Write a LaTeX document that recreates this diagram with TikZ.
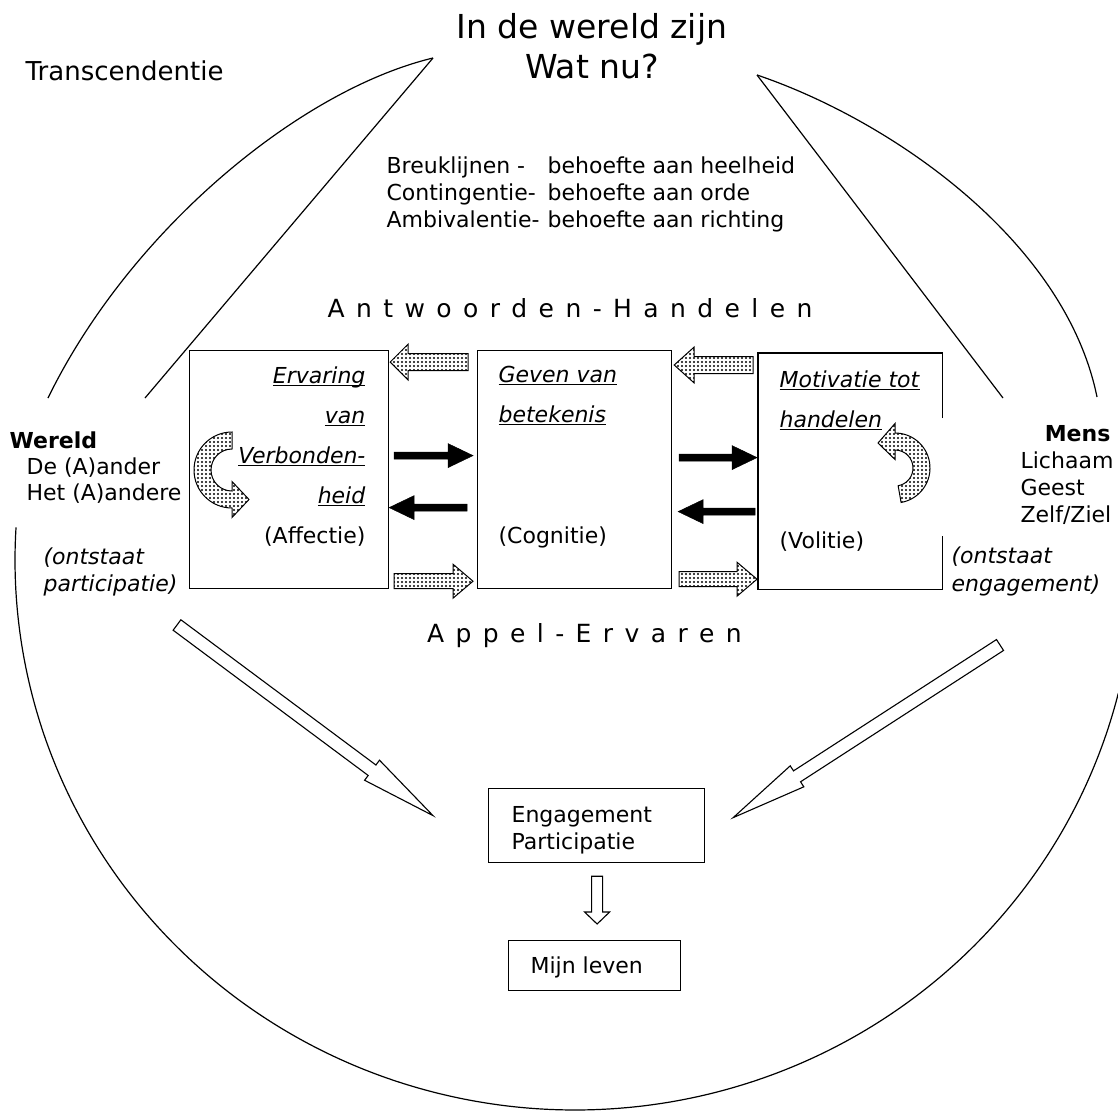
\documentclass[tikz,border=0pt]{standalone}
\usepackage{fontspec}
\setmainfont{DejaVu Sans}
\usetikzlibrary{calc,patterns}
\pgfdeclarepatternformonly{bigdots}{\pgfqpoint{-1pt}{-1pt}}{\pgfqpoint{5pt}{5pt}}{\pgfqpoint{4pt}{4pt}}{\pgfpathcircle{\pgfqpoint{2pt}{2pt}}{1.15pt}\pgfusepath{fill}}
\newcommand\ul[1]{\setbox0\hbox{#1}\rlap{\rule[-3.2pt]{\wd0}{1.2pt}}\box0}
\newcommand\ls{\hspace{11.4pt}}
\newcommand\blockarrow[6]{%
  \coordinate (hb) at ($(#3)!#6!(#2)$);
  \draw[#1] ($(#2)!#4!90:(#3)$) -- ($(hb)!#4!90:(#3)$) -- ($(hb)!#5!90:(#3)$) -- (#3) -- ($(hb)!#5!-90:(#3)$) -- ($(hb)!#4!-90:(#3)$) -- ($(#2)!#4!-90:(#3)$) -- cycle;}
\begin{document}
\begin{tikzpicture}[x=1pt,y=-1pt,line width=1.2pt,
  t/.style={inner sep=0pt, font=\fontsize{22}{27}\selectfont},
  box/.style={draw, line width=1.2pt, inner sep=0pt},
  dotarrow/.style={draw, line width=1pt, preaction={fill=white}, pattern=bigdots},
  solidarrow/.style={fill=black, draw=black, line width=0.5pt},
  hollow/.style={draw, fill=white, line width=1.1pt}]
\useasboundingbox[fill=white] (0,0) rectangle (1118,1116);

% outer curves
\coordinate (apL) at (433,58);
\coordinate (apR) at (757,75);
\draw (apL) .. controls (300,90) and (130,230) .. (48,398);
\draw (apL) -- (145,398);
\draw (apR) .. controls (890,120) and (1065,240) .. (1097,397);
\draw (apR) -- (1003,398);
\draw plot[domain=183.4:14, samples=160, smooth] ({575+560*cos(\x)},{560+550*sin(\x)});

% titles
\node[inner sep=0pt, font=\fontsize{33}{40}\selectfont, anchor=base] (ti1) at (592,38) {In de wereld zijn};
\node[inner sep=0pt, font=\fontsize{33}{40}\selectfont, anchor=base] (ti2) at (592,78) {Wat nu?};
\node[inner sep=0pt, font=\fontsize{26}{30}\selectfont, anchor=base west] (trans) at (25,80) {Transcendentie};

\node[t, anchor=base west] (b1) at (386,173) {\makebox[161pt][l]{Breuklijnen -}behoefte aan heelheid};
\node[t, anchor=base west] (b2) at (386,200) {\makebox[161pt][l]{Contingentie-}behoefte aan orde};
\node[t, anchor=base west] (b3) at (386,227) {\makebox[161pt][l]{Ambivalentie-}behoefte aan richting};

\node[inner sep=0pt, font=\fontsize{25}{30}\selectfont, anchor=base] (ah) at (570,317)
  {A\ls n\ls t\ls w\ls o\ls o\ls r\ls d\ls e\ls n\ls -\ls H\ls a\ls n\ls d\ls e\ls l\ls e\ls n};
\node[inner sep=0pt, font=\fontsize{25}{30}\selectfont, anchor=base] (ae) at (584.5,642)
  {A\ls p\ls p\ls e\ls l\ls -\ls E\ls r\ls v\ls a\ls r\ls e\ls n};

% boxes
\node[box, minimum width=199pt, minimum height=238pt, anchor=north west] (L) at (189,350) {};
\node[box, minimum width=194pt, minimum height=238pt, anchor=north west] (M) at (477,350) {};
\node[inner sep=0pt, minimum width=183pt, minimum height=235pt, anchor=north west] (R) at (758,353) {};
\draw ($(R.north east)+(0,65)$) -- (R.north east) -- (R.north west) -- (R.south west) -- (R.south east) -- ($(R.south east)+(0,-53)$);
\node[box, minimum width=216pt, minimum height=74pt, anchor=north west] (E) at (488,788) {};
\node[box, minimum width=172pt, minimum height=50pt, anchor=north west] (ML) at (508,940) {};

% box texts
\node[t, anchor=base east] (l1) at (366,383) {\ul{\textit{Ervaring}}};
\node[t, anchor=base east] (l2) at (366,423) {\ul{\textit{van}}};
\node[t, anchor=base east] (l3) at (366,463) {\ul{\textit{Verbonden-}}};
\node[t, anchor=base east] (l4) at (366,503) {\ul{\textit{heid}}};
\node[t, anchor=base east] (l5) at (366,543) {(Affectie)};
\node[t, anchor=base west] (m1) at (498,382) {\ul{\textit{Geven van}}};
\node[t, anchor=base west] (m2) at (498,422) {\ul{\textit{betekenis}}};
\node[t, anchor=base west] (m3) at (498,543) {(Cognitie)};
\node[t, anchor=base west] (r1) at (779,387) {\ul{\textit{Motivatie tot}}};
\node[t, anchor=base west] (r2) at (779,427) {\ul{\textit{handelen}}};
\node[t, anchor=base west] (r3) at (779,548) {(Volitie)};

% side texts
\node[t, anchor=base west] (w1) at (9,448) {\textbf{Wereld}};
\node[t, anchor=base west] (w2) at (26,474) {De (A)ander};
\node[t, anchor=base west] (w3) at (26,500) {Het (A)andere};
\node[t, anchor=base west] (w4) at (43,564) {\textit{(ontstaat}};
\node[t, anchor=base west] (w5) at (43,591) {\textit{participatie)}};
\node[t, anchor=base east] (h1) at (1111,441) {\textbf{Mens}};
\node[t, anchor=base west] (h2) at (1020,468) {Lichaam};
\node[t, anchor=base west] (h3) at (1020,495) {Geest};
\node[t, anchor=base west] (h4) at (1020,522) {Zelf/Ziel};
\node[t, anchor=base west] (h5) at (951,563) {\textit{(ontstaat}};
\node[t, anchor=base west] (h6) at (951,591) {\textit{engagement)}};

\node[t, anchor=base west] (e1) at (511,822) {Engagement};
\node[t, anchor=base west] (e2) at (511,849) {Participatie};
\node[t, anchor=base west] (ml1) at (530,973) {Mijn leven};

% dotted block arrows between boxes
\blockarrow{dotarrow}{$(M.north west)+(-9,12)$}{$(L.north east)+(1,12)$}{8.5pt}{18pt}{18pt}
\blockarrow{dotarrow}{$(L.south east)+(5,-8)$}{$(M.south west)+(-4,-8)$}{7.5pt}{17pt}{20pt}
\blockarrow{dotarrow}{$(R.north west)+(-5,12)$}{$(M.north east)+(2,15)$}{8.5pt}{18pt}{20pt}
\blockarrow{dotarrow}{$(M.south east)+(7,-10)$}{$(R.south west)+(-1,-10)$}{7.5pt}{17pt}{20pt}

% solid arrows
\blockarrow{solidarrow}{$(L.east)+(5,-14)$}{$(M.west)+(-4,-14)$}{3.5pt}{12pt}{25pt}
\blockarrow{solidarrow}{$(M.west)+(-10,38)$}{$(L.east)+(0,38)$}{3.5pt}{12pt}{25pt}
\blockarrow{solidarrow}{$(M.east)+(7,-12)$}{$(R.west)+(-1,-13.5)$}{3.5pt}{12pt}{25pt}
\blockarrow{solidarrow}{$(R.west)+(-3,40.5)$}{$(M.east)+(6,42)$}{3.5pt}{12pt}{25pt}

% curved dotted arrows
\draw[dotarrow] (232,432) arc[start angle=270,end angle=90,radius=38] -- (232,517.5) -- (249,499.5) -- (232,481.5) -- (232,491) arc[start angle=90,end angle=270,radius=21] -- cycle;
\draw[dotarrow] ($(895,468)+(80:35)$) arc[start angle=80,end angle=-90,radius=35] -- (895,423.5) -- (878,443) -- (895,459.5) -- (895,450) arc[start angle=-90,end angle=80,radius=18] -- cycle;

% big hollow arrows
\coordinate (bl) at (177,625);
\coordinate (br) at (1000,645);
\blockarrow{hollow}{bl}{$(E.west)+(-55,-10)$}{6.5pt}{12.5pt}{76pt}
\blockarrow{hollow}{br}{$(E.east)+(28,-8)$}{6.5pt}{12.5pt}{76pt}
\blockarrow{hollow}{$(E.south)+(0.5,13)$}{$(ML.north)+(2.5,-16)$}{5.5pt}{12.5pt}{12pt}
\end{tikzpicture}
\end{document}
